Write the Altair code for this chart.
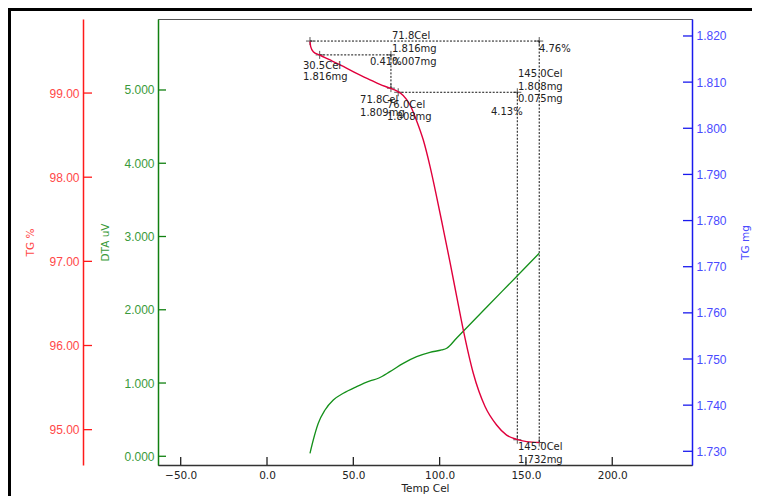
import altair as alt
import pandas as pd

# ---------------- data ----------------
# TG curve: temperature (Cel) and mass (mg)
tg_temp = [24.9, 25.3, 26.8, 30.3, 36.5, 44.2, 51.9, 59.7, 65.4, 71.2, 75.1, 78.9,
           82.8, 86.7, 90.5, 94.4, 98.3, 102.1, 106.0, 109.9, 113.7, 119.5, 126.3,
           133.0, 138.8, 144.6, 150.4, 157.7]
tg_mg = [1.8188, 1.8177, 1.8166, 1.8159, 1.8148, 1.8134, 1.8119, 1.8105, 1.8095,
         1.8087, 1.8081, 1.8071, 1.8051, 1.8016, 1.7975, 1.7918, 1.7851, 1.7782,
         1.7710, 1.7635, 1.7563, 1.7469, 1.7397, 1.7357, 1.7335, 1.7326, 1.7321,
         1.7319]

# DTA curve: temperature (Cel) and signal (uV)
dta_temp = [24.9, 26.8, 29.7, 33.6, 38.4, 44.2, 51.9, 59.7, 64.5, 71.2, 78.9, 86.7,
            94.4, 101.2, 104.1, 109.9, 127.2, 144.6, 157.7]
dta_uv = [0.041, 0.222, 0.450, 0.632, 0.768, 0.860, 0.950, 1.028, 1.065, 1.155,
          1.269, 1.360, 1.420, 1.451, 1.474, 1.615, 2.034, 2.454, 2.771]

# step analysis dotted lines (temp1, mg1, temp2, mg2)
seg_t1 = [24.9, 157.7, 30.5, 71.8, 76.0, 145.0]
seg_m1 = [1.8189, 1.8189, 1.8159, 1.8159, 1.8078, 1.8078]
seg_t2 = [157.7, 157.7, 71.8, 71.8, 145.0, 145.0]
seg_m2 = [1.8189, 1.7319, 1.8159, 1.8087, 1.8078, 1.7325]

# "+" markers
mk_t = [24.9, 157.7, 30.5, 71.8, 71.8, 76.0, 145.0, 145.0, 157.7]
mk_m = [1.8189, 1.8189, 1.8159, 1.8159, 1.8087, 1.8078, 1.8078, 1.7325, 1.7319]

# annotation texts
lbl_text = ["71.8Cel", "1.816mg", "0.007mg", "0.41%", "4.76%",
            "30.5Cel", "1.816mg",
            "145.0Cel", "1.808mg", "0.075mg",
            "71.8Cel", "1.809mg", "76.0Cel", "1.808mg", "4.13%",
            "145.0Cel", "1.732mg"]
lbl_t = [72.4, 72.4, 72.4, 59.6, 157.5,
         20.8, 20.8,
         145.4, 145.4, 145.4,
         53.9, 53.9, 69.5, 69.5, 129.7,
         145.4, 145.4]
lbl_m = [1.8200, 1.8171, 1.8143, 1.8144, 1.8172,
         1.8136, 1.8111,
         1.8117, 1.8090, 1.8064,
         1.8061, 1.8034, 1.8051, 1.8025, 1.8036,
         1.7310, 1.7281]

# axes
x_ticks = [-50, 0, 50, 100, 150, 200]
x_dom = [-63.15, 246.2]
tgpct_ticks = [95, 96, 97, 98, 99]
tgpct_dom = [94.58, 99.88]
dta_ticks = [0, 1, 2, 3, 4, 5]
dta_dom = [-0.119, 5.969]
mg_ticks = [1.73, 1.74, 1.75, 1.76, 1.77, 1.78, 1.79, 1.80, 1.81, 1.82]
mg_dom = [1.72703, 1.82368]

# ---------------- styling ----------------
W, H = 534, 446
RED_LINE = "#e0003c"
RED_AX, RED_TXT = "#ff1a1a", "#ff4848"
GRN_LINE, GRN_AX, GRN_TXT = "#14901a", "#108010", "#3a9a3a"
BLU_AX, BLU_TXT = "#1a1aee", "#4a4aff"
LAB_FONT = "Liberation Sans"
TXT_FONT = "DejaVu Sans"

xs = alt.Scale(domain=x_dom, nice=False, zero=False)
mgs = alt.Scale(domain=mg_dom, nice=False, zero=False)
dts = alt.Scale(domain=dta_dom, nice=False, zero=False)
pcs = alt.Scale(domain=tgpct_dom, nice=False, zero=False)

X_AXIS = alt.Axis(values=x_ticks, format=".1f", ticks=False, tickSize=0, grid=False,
                  domainColor="#333", domainWidth=1.6,
                  labelColor="#222", labelFont=TXT_FONT, labelFontSize=10.5,
                  labelPadding=5,
                  title="Temp Cel", titleColor="#222", titleFont=TXT_FONT,
                  titleFontSize=10.5, titleFontWeight="normal",
                  titleX=W / 2, titleY=23, titleAlign="center",
                  titleBaseline="middle")


def xenc(field):
    return alt.X(field, type="quantitative", scale=xs, axis=X_AXIS)


def yaxis(orient, offset, values, fmt, title, ax_col, txt_col, title_x):
    return alt.Axis(orient=orient, offset=offset, values=values, format=fmt,
                    ticks=False, tickSize=0, grid=False,
                    domainColor=ax_col, domainWidth=1.5,
                    labelColor=txt_col, labelFont=LAB_FONT, labelFontSize=12,
                    labelPadding=4,
                    title=title, titleColor=txt_col, titleFont=TXT_FONT,
                    titleFontSize=10.5, titleFontWeight="normal",
                    titleAngle=270, titleX=title_x, titleY=H / 2,
                    titleAlign="center", titleBaseline="middle")


seg_df = pd.DataFrame({"t1": seg_t1, "m1": seg_m1, "t2": seg_t2, "m2": seg_m2})
mk_df = pd.DataFrame({"t": mk_t, "m": mk_m})
lbl_df = pd.DataFrame({"txt": lbl_text, "t": lbl_t, "m": lbl_m})
tg_df = pd.DataFrame({"t": tg_temp, "m": tg_mg})
dta_df = pd.DataFrame({"t": dta_temp, "v": dta_uv})

# x tick marks (pointing inward) + x axis
xt = alt.Chart(pd.DataFrame({"v": x_ticks})).mark_rule(color="#222", strokeWidth=1.3).encode(
    x=xenc("v"), y=alt.value(H - 8), y2=alt.value(H))

segs = alt.Chart(seg_df).mark_rule(color="#111", strokeWidth=1, strokeDash=[2, 1.5]).encode(
    x=xenc("t1"), x2="t2:Q",
    y=alt.Y("m1:Q", scale=mgs, axis=None), y2="m2:Q")

marks = alt.Chart(mk_df).mark_point(shape="M-1,0H1M0,-1V1", size=64, color="#111",
                                    strokeWidth=1, filled=False).encode(
    x=xenc("t"),
    y=alt.Y("m:Q", scale=mgs, axis=None))

dta_line = alt.Chart(dta_df).mark_line(color=GRN_LINE, strokeWidth=1.3,
                                       interpolate="monotone").encode(
    x=xenc("t"),
    y=alt.Y("v:Q", scale=dts, axis=None))

tg_line = alt.Chart(tg_df).mark_line(color=RED_LINE, strokeWidth=1.4,
                                     interpolate="monotone").encode(
    x=xenc("t"),
    y=alt.Y("m:Q", scale=mgs, axis=None))

labels = alt.Chart(lbl_df).mark_text(align="left", baseline="middle", font=TXT_FONT,
                                     fontSize=10, color="#222").encode(
    x=xenc("t"),
    y=alt.Y("m:Q", scale=mgs, axis=None),
    text="txt:N")

gt = alt.Chart(pd.DataFrame({"v": dta_ticks})).mark_rule(color=GRN_AX, strokeWidth=1.3).encode(
    y=alt.Y("v:Q", scale=dts,
            axis=yaxis("left", 0, dta_ticks, ".3f", "DTA uV", GRN_AX, GRN_TXT, -53)),
    x=alt.value(0), x2=alt.value(8))

bt = alt.Chart(pd.DataFrame({"v": mg_ticks})).mark_rule(color=BLU_AX, strokeWidth=1.3).encode(
    y=alt.Y("v:Q", scale=mgs,
            axis=yaxis("right", 0, mg_ticks, ".3f", "TG mg", BLU_AX, BLU_TXT, 53)),
    x=alt.value(W - 9), x2=alt.value(W))

rt = alt.Chart(pd.DataFrame({"v": tgpct_ticks})).mark_rule(color=RED_AX, strokeWidth=1.3).encode(
    y=alt.Y("v:Q", scale=pcs,
            axis=yaxis("left", 75, tgpct_ticks, ".2f", "TG %", RED_AX, RED_TXT, -53)),
    x=alt.value(-75), x2=alt.value(-66))

# outer black frame (top and left edges visible)
frame_df = pd.DataFrame({"k": [0]})
frame_top = alt.Chart(frame_df).mark_rule(color="black", strokeWidth=3).encode(
    x=alt.value(-150), x2=alt.value(W + 60), y=alt.value(-9.5))
frame_left = alt.Chart(frame_df).mark_rule(color="black", strokeWidth=3).encode(
    x=alt.value(-148.5), y=alt.value(-11), y2=alt.value(H + 31))

chart = alt.layer(
    xt, segs, marks, dta_line, tg_line, labels, gt, bt, rt, frame_top, frame_left
).resolve_scale(y="independent").properties(
    width=W, height=H,
    autosize=alt.AutoSizeParams(type="none"),
    padding={"left": 150, "top": 11, "right": 60, "bottom": 31},
    background="white",
).configure_view(stroke="#555", strokeWidth=1)

chart.save("out.html", embed_options={"renderer": "svg", "actions": False})
